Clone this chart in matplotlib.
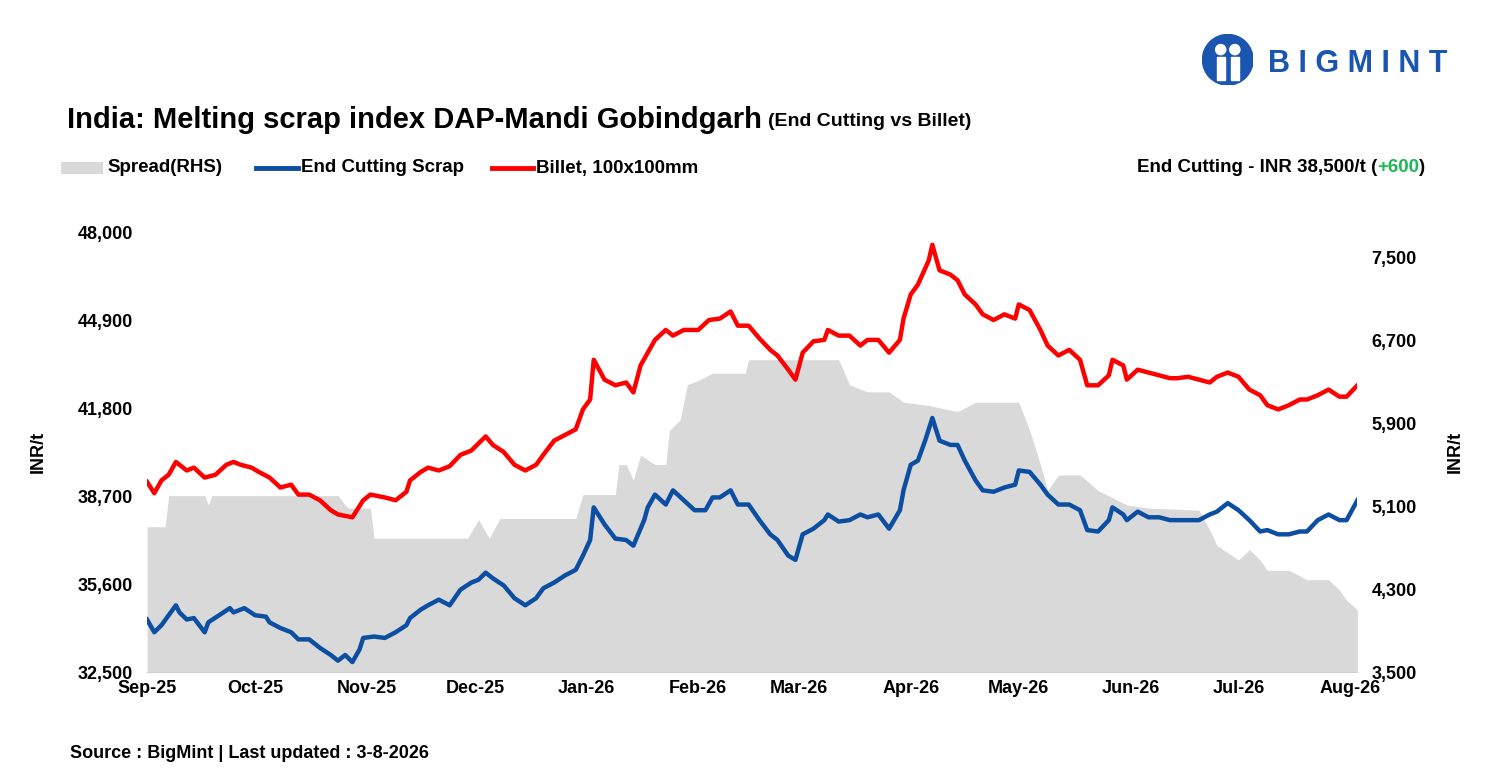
import pandas as pd
import matplotlib.pyplot as plt
from matplotlib.patches import Circle
import numpy as np

plt.rcParams['font.family'] = ['Liberation Sans', 'DejaVu Sans']

start = pd.Timestamp('2025-09-01')

# (days since 1 Sep 2025, INR/t)
billet_pts = [(0,39200),(2,38800),(4,39250),(6,39450),(8,39900),(11,39600),(13,39700),(16,39350),(19,39450),(22,39800),(24,39900),(26,39800),(29,39700),(31,39550),(34,39350),(37,39000),(40,39100),(42,38750),(45,38750),(48,38550),(51,38200),(53,38050),(57,37950),(60,38550),(62,38750),(66,38650),(69,38550),(72,38850),(73,39250),(76,39550),(78,39700),(81,39600),(84,39750),(87,40150),(90,40300),(92,40550),(94,40800),(96,40500),(99,40250),(102,39800),(105,39600),(108,39800),(110,40150),(113,40650),(116,40850),(119,41050),(121,41750),(123,42100),(124,43500),(127,42800),(130,42600),(133,42700),(135,42350),(137,43300),(139,43750),(141,44200),(144,44550),(146,44350),(149,44550),(153,44550),(156,44900),(159,44950),(162,45200),(164,44700),(167,44700),(170,44250),(173,43850),(175,43650),(178,43150),(180,42800),(182,43750),(185,44150),(188,44200),(189,44550),(192,44350),(195,44350),(198,44000),(200,44200),(203,44200),(206,43750),(209,44200),(210,44950),(212,45800),(214,46150),(217,47000),(218,47550),(220,46650),(223,46500),(225,46300),(227,45800),(230,45450),(232,45100),(235,44900),(238,45100),(241,44950),(242,45450),(245,45250),(248,44550),(250,44000),(253,43650),(256,43850),(259,43500),(261,42600),(264,42600),(267,42950),(268,43500),(271,43300),(272,42800),(275,43150),(278,43050),(281,42950),(284,42850),(286,42850),(289,42900),(292,42800),(295,42700),(297,42900),(300,43050),(303,42900),(306,42450),(309,42250),(311,41900),(314,41750),(317,41900),(320,42100),(322,42100),(325,42250),(328,42450),(331,42200),(333,42200),(336,42600)]

scrap_pts = [(0,34350),(2,33900),(4,34150),(6,34500),(8,34850),(9,34600),(11,34350),(13,34400),(16,33900),(17,34250),(20,34500),(23,34750),(24,34600),(27,34750),(30,34500),(33,34450),(34,34250),(37,34050),(40,33900),(42,33650),(45,33650),(48,33350),(51,33100),(53,32900),(55,33100),(57,32850),(59,33300),(60,33700),(63,33750),(66,33700),(69,33900),(72,34150),(73,34400),(76,34700),(78,34850),(81,35050),(84,34850),(87,35400),(90,35650),(92,35750),(94,36000),(96,35800),(99,35550),(102,35100),(105,34850),(108,35100),(110,35450),(113,35650),(116,35900),(119,36100),(121,36600),(123,37150),(124,38300),(127,37700),(130,37200),(133,37150),(135,36950),(138,37850),(139,38300),(141,38750),(144,38400),(146,38900),(149,38550),(152,38200),(155,38200),(157,38650),(159,38650),(162,38900),(164,38400),(167,38400),(170,37850),(173,37350),(175,37150),(178,36600),(180,36450),(182,37350),(185,37550),(188,37850),(189,38050),(192,37800),(195,37850),(198,38050),(200,37950),(203,38050),(206,37550),(209,38200),(210,38900),(212,39800),(214,39950),(216,40650),(218,41450),(220,40650),(223,40500),(225,40500),(227,39950),(230,39250),(232,38900),(235,38850),(238,39000),(241,39100),(242,39600),(245,39550),(248,39100),(250,38750),(253,38400),(256,38400),(259,38200),(261,37500),(264,37450),(267,37850),(268,38300),(271,38050),(272,37850),(275,38150),(278,37950),(281,37950),(284,37850),(286,37850),(289,37850),(292,37850),(295,38050),(297,38150),(300,38450),(303,38200),(306,37850),(309,37450),(311,37500),(314,37350),(317,37350),(320,37450),(322,37450),(325,37850),(328,38050),(331,37850),(333,37850),(336,38550)]

spread_pts = [(0,4900),(5,4900),(6,5200),(16,5200),(17,5110),(18,5200),(53,5200),(55,5110),(56,5080),(62,5080),(63,4790),(89,4790),(92,4970),(95,4790),(98,4980),(119,4980),(121,5210),(130,5210),(131,5500),(133,5500),(135,5350),(137,5590),(141,5500),(144,5500),(145,5830),(148,5930),(150,6270),(153,6310),(157,6380),(166,6380),(167,6510),(192,6510),(195,6270),(200,6200),(206,6200),(210,6100),(217,6070),(225,6010),(230,6100),(242,6100),(245,5830),(248,5500),(250,5250),(253,5400),(259,5400),(264,5250),(272,5110),(278,5080),(292,5060),(295,4870),(297,4720),(303,4580),(306,4680),(309,4580),(311,4480),(317,4480),(322,4390),(328,4390),(331,4290),(333,4190),(336,4100)]

left_ticks = [32500, 35600, 38700, 41800, 44900, 48000]
right_ticks = [3500, 4300, 5100, 5900, 6700, 7500]
month_labels = ['Sep-25', 'Oct-25', 'Nov-25', 'Dec-25', 'Jan-26', 'Feb-26', 'Mar-26',
                'Apr-26', 'May-26', 'Jun-26', 'Jul-26', 'Aug-26']


def to_series(pts):
    d = [start + pd.Timedelta(days=p[0]) for p in pts]
    return d, [p[1] for p in pts]


bd, bv = to_series(billet_pts)
sd, sv = to_series(scrap_pts)
pd_, pv = to_series(spread_pts)

BLUE = '#0b4ea2'
RED = '#ff0000'
GREY = '#d9d9d9'

fig = plt.figure(figsize=(14.9, 7.76), dpi=100)
ax = fig.add_axes([0.0987, 0.134, 0.8123, 0.567])
ax2 = ax.twinx()
ax.set_zorder(2)
ax.patch.set_visible(False)

ax2.fill_between(pd_, 3500, pv, color=GREY, linewidth=0)
ax.plot(sd, sv, color=BLUE, linewidth=3.2)
ax.plot(bd, bv, color=RED, linewidth=3.2)

ax.set_xlim(start, start + pd.Timedelta(days=336))
ax.set_ylim(32500, 48000)
ax2.set_ylim(3500, 3500 + 4000 / 415 * 440)
ax.set_yticks(left_ticks)
ax.set_yticklabels([f'{t:,}' for t in left_ticks])
ax2.set_yticks(right_ticks)
ax2.set_yticklabels([f'{t:,}' for t in right_ticks])
ticks = pd.date_range(start, periods=12, freq='MS')
ax.set_xticks(ticks)
ax.set_xticklabels(month_labels)

for a in (ax, ax2):
    for s in a.spines.values():
        s.set_visible(False)
    a.tick_params(length=0, labelsize=13, pad=10)
    for lab in a.get_xticklabels() + a.get_yticklabels():
        lab.set_fontweight('bold')
ax.spines['bottom'].set_visible(True)
ax.spines['bottom'].set_color('#d0d0d0')
ax.tick_params(axis='x', pad=6)
ax.set_ylabel('INR/t', fontsize=13, fontweight='bold', labelpad=22)
ax2.set_ylabel('INR/t', fontsize=13, fontweight='bold', labelpad=22)

# title and legend row
title = fig.text(0.045, 0.845, 'India: Melting scrap index DAP-Mandi Gobindgarh', fontsize=21,
                 fontweight='bold', va='center')
fig.canvas.draw()
bb = title.get_window_extent().transformed(fig.transFigure.inverted())
fig.text(bb.x1 + 0.004, 0.843, '(End Cutting vs Billet)', fontsize=14, fontweight='bold', va='center')

ly = 1 - 168 / 776
fig.patches.append(plt.Rectangle((0.041, ly - 0.008), 0.028, 0.016, transform=fig.transFigure,
                                 color=GREY, linewidth=0))
fig.text(0.072, ly, 'Spread(RHS)', fontsize=13.5, fontweight='bold', va='center')
fig.lines.append(plt.Line2D([0.172, 0.200], [ly, ly], transform=fig.transFigure, color=BLUE, lw=3.5))
fig.text(0.202, ly, 'End Cutting Scrap', fontsize=13.5, fontweight='bold', va='center')
fig.lines.append(plt.Line2D([0.330, 0.358], [ly, ly], transform=fig.transFigure, color=RED, lw=3.5))
fig.text(0.360, ly, 'Billet, 100x100mm', fontsize=13.5, fontweight='bold', va='center')

right = fig.text(0.9565, ly, ')', fontsize=13.5, fontweight='bold', va='center', ha='right')
fig.canvas.draw()
x = right.get_window_extent().transformed(fig.transFigure.inverted()).x0
green = fig.text(x, ly, '+600', fontsize=13.5, fontweight='bold', va='center', ha='right', color='#1db954')
fig.canvas.draw()
x = green.get_window_extent().transformed(fig.transFigure.inverted()).x0
fig.text(x, ly, 'End Cutting - INR 38,500/t (', fontsize=13.5, fontweight='bold', va='center', ha='right')

fig.text(0.047, 1 - 753 / 776, 'Source : BigMint | Last updated : 3-8-2026', fontsize=13,
         fontweight='bold', va='center')

# logo
logo_ax = fig.add_axes([0.807, 0.89, 0.034, 0.066])
logo_ax.set_xlim(0, 1)
logo_ax.set_ylim(0, 1)
logo_ax.set_aspect('equal')
logo_ax.axis('off')
logo_ax.add_patch(Circle((0.5, 0.5), 0.5, color='#1a56b0'))
logo_ax.add_patch(Circle((0.36, 0.7), 0.1, color='white'))
logo_ax.add_patch(Circle((0.64, 0.7), 0.1, color='white'))
logo_ax.add_patch(plt.Rectangle((0.28, 0.1), 0.16, 0.45, color='white'))
logo_ax.add_patch(plt.Rectangle((0.56, 0.1), 0.16, 0.45, color='white'))
fig.text(0.851, 0.918, 'B I G M I N T', fontsize=22, fontweight='bold', color='#1a56b0', va='center')

fig.savefig('out.png', dpi=100)
